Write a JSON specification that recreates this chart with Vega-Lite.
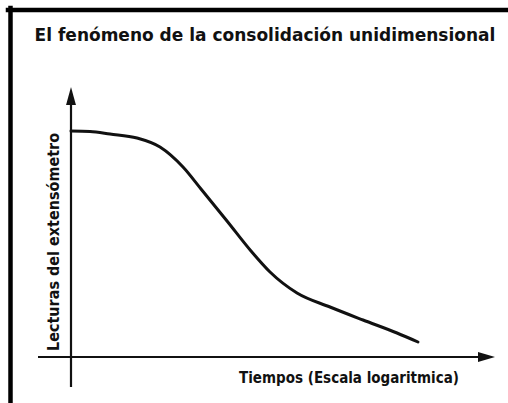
{
  "$schema": "https://vega.github.io/schema/vega-lite/v6.json",
  "width": 508,
  "height": 403,
  "autosize": {"type": "none"},
  "padding": 0,
  "background": "white",
  "config": {"view": {"stroke": null}},
  "datasets": {
    "frame": [
      {"x": -0.63, "x2": 4.40, "y": 3.47, "y2": 3.47},
      {"x": -0.605, "x2": -0.605, "y": 3.49, "y2": -0.50}
    ],
    "axes": [
      {"x": 0, "x2": 0, "y": -0.30, "y2": 2.57},
      {"x": -0.33, "x2": 4.14, "y": 0, "y2": 0}
    ],
    "curve": [
      {"x": 0.00, "y": 2.26},
      {"x": 0.19, "y": 2.255},
      {"x": 0.39, "y": 2.23},
      {"x": 0.66, "y": 2.19},
      {"x": 0.89, "y": 2.10},
      {"x": 1.12, "y": 1.90},
      {"x": 1.30, "y": 1.68},
      {"x": 1.56, "y": 1.36},
      {"x": 1.80, "y": 1.06},
      {"x": 1.99, "y": 0.85},
      {"x": 2.26, "y": 0.64},
      {"x": 2.59, "y": 0.50},
      {"x": 2.92, "y": 0.37},
      {"x": 3.26, "y": 0.24},
      {"x": 3.47, "y": 0.15}
    ],
    "texts": [
      {"x": 1.94, "y": 3.21, "label": "El fenómeno de la consolidación unidimensional", "kind": "title"},
      {"x": -0.17, "y": 1.15, "label": "Lecturas del extensómetro", "kind": "ylab"},
      {"x": 2.78, "y": -0.21, "label": "Tiempos (Escala logaritmica)", "kind": "xlab"}
    ]
  },
  "encoding": {
    "x": {"field": "x", "type": "quantitative", "scale": {"domain": [-0.71, 4.37], "nice": false, "zero": false}, "axis": null},
    "y": {"field": "y", "type": "quantitative", "scale": {"domain": [-0.46, 3.57], "nice": false, "zero": false}, "axis": null}
  },
  "layer": [
    {
      "data": {"name": "frame"},
      "mark": {"type": "rule", "color": "#000", "strokeWidth": 4.5, "strokeCap": "square"},
      "encoding": {"x2": {"field": "x2"}, "y2": {"field": "y2"}}
    },
    {
      "data": {"name": "axes"},
      "mark": {"type": "rule", "color": "#111", "strokeWidth": 2.2},
      "encoding": {"x2": {"field": "x2"}, "y2": {"field": "y2"}}
    },
    {
      "data": {"values": [{"x": 0, "y": 2.61}]},
      "mark": {"type": "point", "filled": true, "color": "#111", "opacity": 1, "size": 324, "shape": "M0,-1L0.55,1L-0.55,1Z", "strokeWidth": 0}
    },
    {
      "data": {"values": [{"x": 4.155, "y": 0}]},
      "mark": {"type": "point", "filled": true, "color": "#111", "opacity": 1, "size": 289, "shape": "M1,0L-1,0.6L-1,-0.6Z", "strokeWidth": 0}
    },
    {
      "data": {"name": "curve"},
      "mark": {"type": "line", "color": "#111", "strokeWidth": 3, "interpolate": "monotone", "strokeCap": "round"},
      "encoding": {"order": {"field": "x", "type": "quantitative"}}
    },
    {
      "data": {"name": "texts"},
      "transform": [{"filter": "datum.kind == 'title'"}],
      "mark": {"type": "text", "font": "DejaVu Sans", "fontWeight": "bold", "fontSize": 17, "color": "#111", "align": "center", "baseline": "middle"},
      "encoding": {"text": {"field": "label"}}
    },
    {
      "data": {"name": "texts"},
      "transform": [{"filter": "datum.kind == 'ylab'"}],
      "mark": {"type": "text", "font": "DejaVu Sans Condensed", "fontWeight": "bold", "fontSize": 16, "color": "#111", "align": "center", "baseline": "middle", "angle": 270},
      "encoding": {"text": {"field": "label"}}
    },
    {
      "data": {"name": "texts"},
      "transform": [{"filter": "datum.kind == 'xlab'"}],
      "mark": {"type": "text", "font": "DejaVu Sans Condensed", "fontWeight": "bold", "fontSize": 15, "color": "#111", "align": "center", "baseline": "middle"},
      "encoding": {"text": {"field": "label"}}
    }
  ]
}
